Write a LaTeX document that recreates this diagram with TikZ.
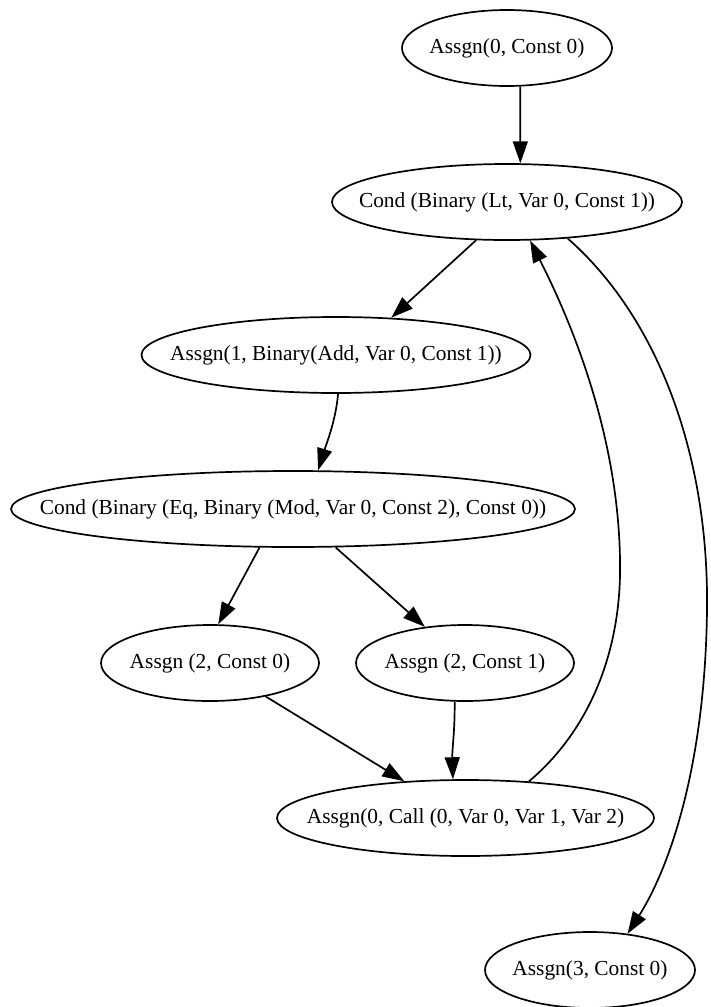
\documentclass[tikz,border=0pt]{standalone}
\usepackage{fontspec}
\setmainfont{Liberation Serif}
\usetikzlibrary{shapes.geometric,arrows.meta}

\begin{document}
\begin{tikzpicture}[x=1pt,y=-1pt,
            font=\fontsize{21.4}{25}\selectfont,
            st/.style={ellipse, draw, line width=1.7pt, inner sep=0pt, minimum height=76pt},
            ar/.style={-{Triangle[length=22pt,width=15pt]}, line width=1.7pt}]
            \useasboundingbox (0,0) rectangle (710,1007);
            % statements, one per rank
            \node[st, minimum width=210pt, label=center:{Assgn(0, Const 0)}] (a0) at (507,48) {};
            \node[st, minimum width=350pt, label=center:{Cond (Binary (Lt, Var 0, Const 1))}] (c1) at (507,202) {};
            \node[st, minimum width=389pt, label=center:{Assgn(1, Binary(Add, Var 0, Const 1))}] (a1) at (336,355) {};
            \node[st, minimum width=564pt, label=center:{Cond (Binary (Eq, Binary (Mod, Var 0, Const 2), Const 0))}] (c2) at (293,509) {};
            \node[st, minimum width=218pt, label=center:{Assgn (2, Const 0)}] (a2z) at (210,663) {};
            \node[st, minimum width=218pt, label=center:{Assgn (2, Const 1)}] (a2o) at (465,663) {};
            \node[st, minimum width=377pt, label=center:{Assgn(0, Call (0, Var 0, Var 1, Var 2)}] (call) at (465.5,818) {};
            \node[st, minimum width=210pt, label=center:{Assgn(3, Const 0)}] (a3) at (590,970) {};
            % control flow
            \draw[ar] (a0.-71) -- (c1.71);
            \draw[ar] (c1.-129) -- (a1.34);
            \draw[ar] (a1.-87) .. controls (336,420) and (326,445) .. (c2.57);
            \draw[ar] (c2.-131) -- (a2z.78);
            \draw[ar] (c2.-42) -- (a2o.138);
            \draw[ar] (a2z.-31) -- (call.149);
            \draw[ar] (a2o.-105) .. controls (455,730) and (452,750) .. (call.108);
            % loop back and loop exit
            \draw[ar] (call.30) .. controls (590,730) and (622,650) .. (620,560)
                .. controls (618,420) and (560,300) .. (c1.-59);
            \draw[ar] (c1.-31) .. controls (655,315) and (709,450) .. (707,610)
                .. controls (705,770) and (668,870) .. (a3.44);
        \end{tikzpicture}
\end{document}
